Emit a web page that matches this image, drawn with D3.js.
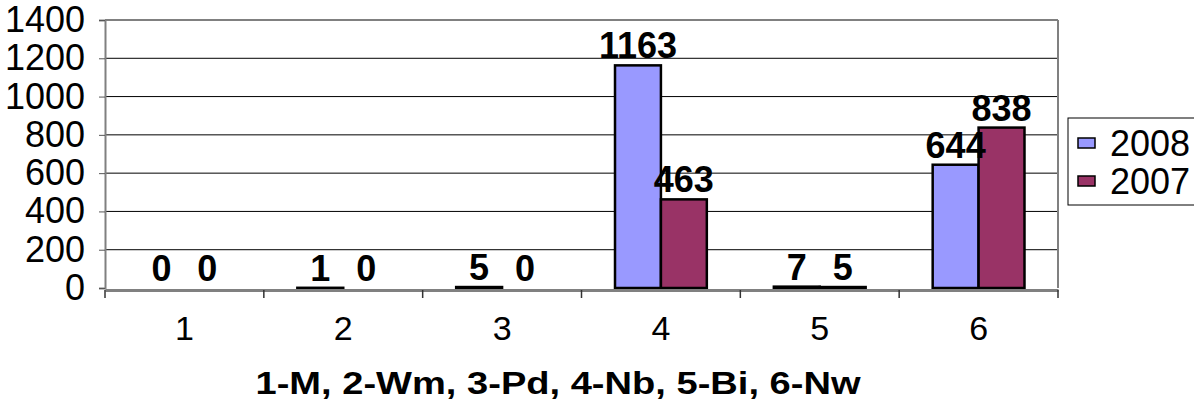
<!DOCTYPE html>
<html>
<head>
<meta charset="utf-8">
<script src="https://cdn.jsdelivr.net/npm/d3@7"></script>
<style>
  body { margin: 0; background: #fff; }
  svg { display: block; font-family: Arial, "Liberation Sans", sans-serif; }
</style>
</head>
<body>
<div id="chart"></div>
<script>
// data
const categories = ["1", "2", "3", "4", "5", "6"];
const seriesNames = ["2008", "2007"];
const values2008 = [0, 1, 5, 1163, 7, 644];
const values2007 = [0, 0, 0, 463, 5, 838];
const yTicks = [0, 200, 400, 600, 800, 1000, 1200, 1400];
const xTitle = "1-M, 2-Wm, 3-Pd, 4-Nb, 5-Bi, 6-Nw";

const colors = { "2008": "#9999ff", "2007": "#993366" };

const W = 1194, H = 401;
const plot = { left: 105, right: 1058, top: 20, bottom: 288 };

const svg = d3.select("#chart")
  .append("svg")
  .attr("width", W)
  .attr("height", H);

const x = d3.scaleBand()
  .domain(categories)
  .range([plot.left, plot.right]);

const xInner = d3.scaleBand()
  .domain(seriesNames)
  .range([0, x.bandwidth()])
  .paddingInner(0)
  .paddingOuter(0.73);

const y = d3.scaleLinear()
  .domain([0, 1400])
  .range([plot.bottom, plot.top]);

// gridlines
svg.append("g")
  .selectAll("line")
  .data(yTicks.filter(d => d > 0))
  .enter()
  .append("line")
  .attr("x1", plot.left)
  .attr("x2", plot.right)
  .attr("y1", d => y(d))
  .attr("y2", d => y(d))
  .attr("stroke", d => d === 1400 ? "#808080" : "#000")
  .attr("stroke-width", d => d === 1400 ? 2 : 1);

// right border
svg.append("line")
  .attr("x1", plot.right).attr("x2", plot.right)
  .attr("y1", plot.top).attr("y2", plot.bottom)
  .attr("stroke", "#808080")
  .attr("stroke-width", 2);

// y axis
const yAxis = svg.append("g")
  .attr("transform", `translate(${plot.left},0)`)
  .call(d3.axisLeft(y).tickValues(yTicks).tickFormat(d3.format("d")).tickSize(6).tickPadding(14));
yAxis.select(".domain").attr("stroke", "#808080").attr("stroke-width", 2);
yAxis.selectAll(".tick line").attr("stroke", "#555");
yAxis.selectAll("text")
  .style("font-size", "36px")
  .attr("fill", "#000");

// bars
const rows = categories.map((c, i) => ({
  cat: c,
  vals: [
    { key: "2008", v: values2008[i] },
    { key: "2007", v: values2007[i] }
  ]
}));

const groups = svg.selectAll(".grp")
  .data(rows)
  .enter()
  .append("g")
  .attr("class", "grp")
  .attr("transform", d => `translate(${x(d.cat)},0)`);

groups.selectAll("rect")
  .data(d => d.vals)
  .enter()
  .append("rect")
  .attr("x", d => xInner(d.key))
  .attr("y", d => y(d.v))
  .attr("width", xInner.bandwidth())
  .attr("height", d => y(0) - y(d.v))
  .attr("fill", d => colors[d.key])
  .attr("stroke", "#000")
  .attr("stroke-width", 2.5);

groups.selectAll("text")
  .data(d => d.vals)
  .enter()
  .append("text")
  .attr("x", d => xInner(d.key) + xInner.bandwidth() / 2)
  .attr("y", d => y(d.v) - 7)
  .attr("text-anchor", "middle")
  .style("font-size", "36px")
  .style("font-weight", "bold")
  .text(d => d.v);

// x axis
const xAxis = svg.append("g")
  .attr("transform", `translate(0,${plot.bottom + 2})`)
  .call(d3.axisBottom(x).tickSize(0).tickPadding(26));
xAxis.select(".domain").attr("stroke", "#808080").attr("stroke-width", 3);
xAxis.selectAll("text")
  .style("font-size", "34px")
  .attr("fill", "#000");

// tick marks at band edges
svg.append("g")
  .selectAll("line")
  .data(categories.map(c => x(c)).concat([plot.right]))
  .enter()
  .append("line")
  .attr("x1", d => d).attr("x2", d => d)
  .attr("y1", plot.bottom + 2)
  .attr("y2", plot.bottom + 10)
  .attr("stroke", "#333")
  .attr("stroke-width", 1.5);

// x title
svg.append("text")
  .attr("x", 558)
  .attr("y", 394)
  .attr("text-anchor", "middle")
  .attr("textLength", 605)
  .attr("lengthAdjust", "spacingAndGlyphs")
  .style("font-size", "32px")
  .style("font-weight", "bold")
  .text(xTitle);

// legend
const legend = svg.append("g").attr("transform", "translate(1068,118)");
legend.append("rect")
  .attr("width", 140)
  .attr("height", 87)
  .attr("fill", "#fff")
  .attr("stroke", "#000")
  .attr("stroke-width", 1);

const items = legend.selectAll(".item")
  .data(seriesNames)
  .enter()
  .append("g")
  .attr("class", "item")
  .attr("transform", (d, i) => `translate(0,${25 + i * 38})`);

items.append("rect")
  .attr("x", 10)
  .attr("y", -5)
  .attr("width", 17)
  .attr("height", 10)
  .attr("fill", d => colors[d])
  .attr("stroke", "#000")
  .attr("stroke-width", 1.5);

items.append("text")
  .attr("x", 42)
  .attr("dy", "0.35em")
  .style("font-size", "36px")
  .text(d => d);
</script>
</body>
</html>
